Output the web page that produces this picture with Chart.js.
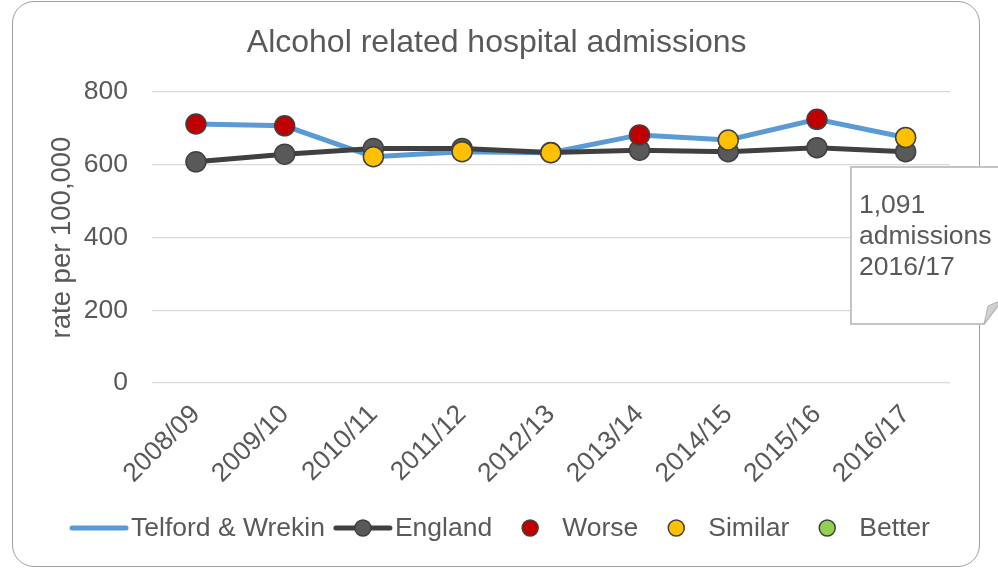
<!DOCTYPE html>
<html>
<head>
<meta charset="utf-8">
<script src="https://cdn.jsdelivr.net/npm/chart.js@4"></script>
<style>
  html, body { margin: 0; padding: 0; background: #fff; overflow: hidden; }
  #wrap { position: relative; width: 998px; height: 569px; }
  #frame { position: absolute; left: 12px; top: 1px; width: 966px; height: 564px;
           border: 1px solid #a0a0a0; border-radius: 22px; }
  #chart { position: absolute; left: 0; top: 0; }
  #note { position: absolute; left: 0; top: 0; }
</style>
</head>
<body>
<div id="wrap">
  <div id="frame"></div>
  <canvas id="chart" width="998" height="569"></canvas>
  <svg id="note" width="998" height="569">
    <path d="M851,167 H1002 V300 L984,324 H851 Z" fill="#fff" stroke="#c4c4c4" stroke-width="2"/>
    <polygon points="984,324 988,306 1002,300" fill="#d0d0d0" stroke="#b0b0b0" stroke-width="1"/>
    <g font-family="'Liberation Sans', Arial, sans-serif" font-size="26.5" fill="#595959">
      <text x="859" y="213">1,091</text>
      <text x="859" y="244">admissions</text>
      <text x="859" y="275">2016/17</text>
    </g>
  </svg>
</div>
<script>
const years = ['2008/09', '2009/10', '2010/11', '2011/12', '2012/13', '2013/14', '2014/15', '2015/16', '2016/17'];
const telford = [712, 707, 622, 636, 633, 682, 668, 725, 675];
const england = [608, 629, 645, 645, 634, 640, 636, 647, 636];
const status = ['Worse', 'Worse', 'Similar', 'Similar', 'Similar', 'Worse', 'Similar', 'Worse', 'Similar'];
const yTicks = [0, 200, 400, 600, 800];

const FONT = "'Liberation Sans', Arial, sans-serif";
const GREY = '#595959';

function pick(name) {
  return telford.map((v, i) => status[i] === name ? v : null);
}
function markerSet(name, color) {
  return {
    label: name, data: pick(name), showLine: false, order: 0,
    pointRadius: 10, pointBackgroundColor: color,
    pointBorderColor: '#404040', pointBorderWidth: 1.5,
    borderColor: color, backgroundColor: color
  };
}

// legend drawn by hand so line / marker symbols look like the original
const legendPlugin = {
  id: 'bottomLegend',
  afterDraw(chart) {
    const ctx = chart.ctx;
    let x = 70;
    const y = 528;
    ctx.save();
    ctx.font = '26.5px ' + FONT;
    ctx.textBaseline = 'middle';
    chart.data.datasets.forEach(ds => {
      if (ds.showLine !== false) {
        ctx.strokeStyle = ds.borderColor;
        ctx.lineWidth = ds.borderWidth;
        ctx.lineCap = 'round';
        ctx.beginPath();
        ctx.moveTo(x + 2, y);
        ctx.lineTo(x + 56, y);
        ctx.stroke();
      }
      if (ds.pointRadius > 0) {
        ctx.beginPath();
        ctx.arc(x + 29, y, 8, 0, Math.PI * 2);
        ctx.fillStyle = ds.pointBackgroundColor;
        ctx.fill();
        ctx.lineWidth = 1.5;
        ctx.strokeStyle = ds.pointBorderColor;
        ctx.stroke();
      }
      ctx.fillStyle = GREY;
      ctx.fillText(ds.label, x + 61, y + 1);
      x += 61 + ctx.measureText(ds.label).width + 9;
    });
    ctx.restore();
  }
};

new Chart(document.getElementById('chart'), {
  type: 'line',
  data: {
    labels: years,
    datasets: [
      {
        label: 'Telford & Wrekin', data: telford, order: 2,
        borderColor: '#5B9BD5', backgroundColor: '#5B9BD5', borderWidth: 5,
        pointRadius: 0, tension: 0
      },
      {
        label: 'England', data: england, order: 1,
        borderColor: '#404040', backgroundColor: '#404040', borderWidth: 5,
        pointRadius: 10, pointBackgroundColor: '#595959',
        pointBorderColor: '#404040', pointBorderWidth: 1.5, tension: 0
      },
      markerSet('Worse', '#C00000'),
      markerSet('Similar', '#FFC000'),
      markerSet('Better', '#92D050')
    ]
  },
  options: {
    responsive: false,
    animation: false,
    events: [],
    layout: { padding: { left: 43.4, right: 48, top: 0, bottom: 86 } },
    plugins: {
      legend: { display: false },
      tooltip: { enabled: false },
      title: {
        display: true,
        text: 'Alcohol related hospital admissions',
        color: GREY,
        font: { family: FONT, size: 32, weight: 'normal' },
        padding: { top: 23.8, bottom: 29.8 }
      }
    },
    scales: {
      x: {
        offset: true,
        grid: { display: false },
        border: { display: false },
        ticks: {
          color: GREY, font: { family: FONT, size: 26.5 },
          maxRotation: 45, minRotation: 45, padding: 8, autoSkip: false
        },
        afterFit(s) { s.height = 100; }
      },
      y: {
        min: 0, max: 800,
        afterBuildTicks(s) { s.ticks = yTicks.map(v => ({ value: v })); },
        grid: { color: '#d9d9d9', lineWidth: 1.3, drawTicks: false },
        border: { display: false },
        ticks: { color: GREY, font: { family: FONT, size: 26.5 }, padding: 23.6 },
        title: {
          display: true, text: 'rate per 100,000', color: GREY,
          font: { family: FONT, size: 27.5 }, padding: { top: 3, bottom: 4 }
        },
        afterFit(s) { s.width = 108.2; }
      }
    }
  },
  plugins: [legendPlugin]
});
</script>
</body>
</html>
